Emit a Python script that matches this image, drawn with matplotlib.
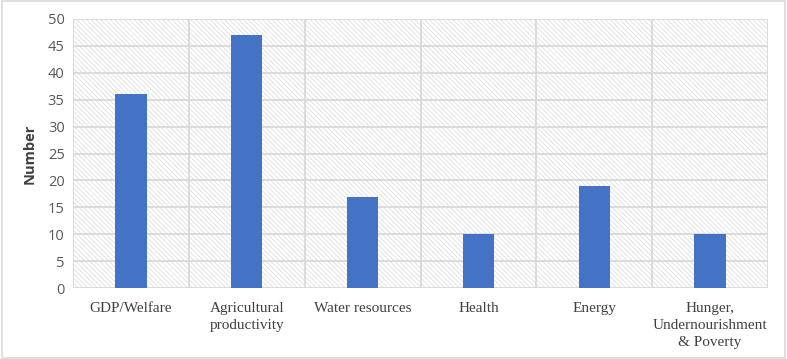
import matplotlib
matplotlib.use("Agg")
import matplotlib.pyplot as plt
from matplotlib.patches import Rectangle

categories = ["GDP/Welfare", "Agricultural\nproductivity", "Water resources",
              "Health", "Energy", "Hunger,\nUndernourishment\n& Poverty"]
values = [36, 47, 17, 10, 19, 10]
yticks = [0, 5, 10, 15, 20, 25, 30, 35, 40, 45, 50]

plt.rcParams['hatch.linewidth'] = 0.5
plt.rcParams['hatch.color'] = '#d9d9d9'

fig = plt.figure(figsize=(7.87, 3.59), dpi=100)
ax = fig.add_axes([73/787, 1-288/359, (768-73)/787, (288-19)/359])

# hatched background
ax.add_patch(Rectangle((0, 0), 1, 1, transform=ax.transAxes, facecolor='white',
                       edgecolor='#d9d9d9', hatch='\\\\\\\\\\\\\\', linewidth=0, zorder=0))

x = list(range(len(categories)))
ax.bar(x, values, width=0.27, color='#4472c4', zorder=3)

ax.set_xlim(-0.5, len(categories) - 0.5)
ax.set_ylim(0, 50)
ax.set_yticks(yticks)
ax.set_yticklabels([str(v) for v in yticks], fontsize=10.5, color='#595959',
                   family='Open Sans')
ax.set_xticks(x)
ax.set_xticklabels(categories, fontsize=11, color='#404040', family='Liberation Serif',
                   linespacing=1.4)
ax.tick_params(axis='both', length=0)
ax.tick_params(axis='x', pad=10)
ax.tick_params(axis='y', pad=6)

# gridlines
for y in yticks:
    ax.axhline(y, color='#d9d9d9', linewidth=1.3, zorder=1)
for b in [i - 0.5 for i in range(len(categories) + 1)]:
    ax.axvline(b, color='#d9d9d9', linewidth=1.3, zorder=1)
for s in ax.spines.values():
    s.set_visible(False)

ax.set_ylabel("Number", fontsize=10.5, fontweight='bold', color='#404040',
              family='Open Sans', labelpad=8)

# outer border
fig.patches.append(Rectangle((0.002, 0.003), 0.996, 0.994, transform=fig.transFigure,
                             fill=False, edgecolor='#d9d9d9', linewidth=1.2))

fig.savefig("out.png", dpi=100)
